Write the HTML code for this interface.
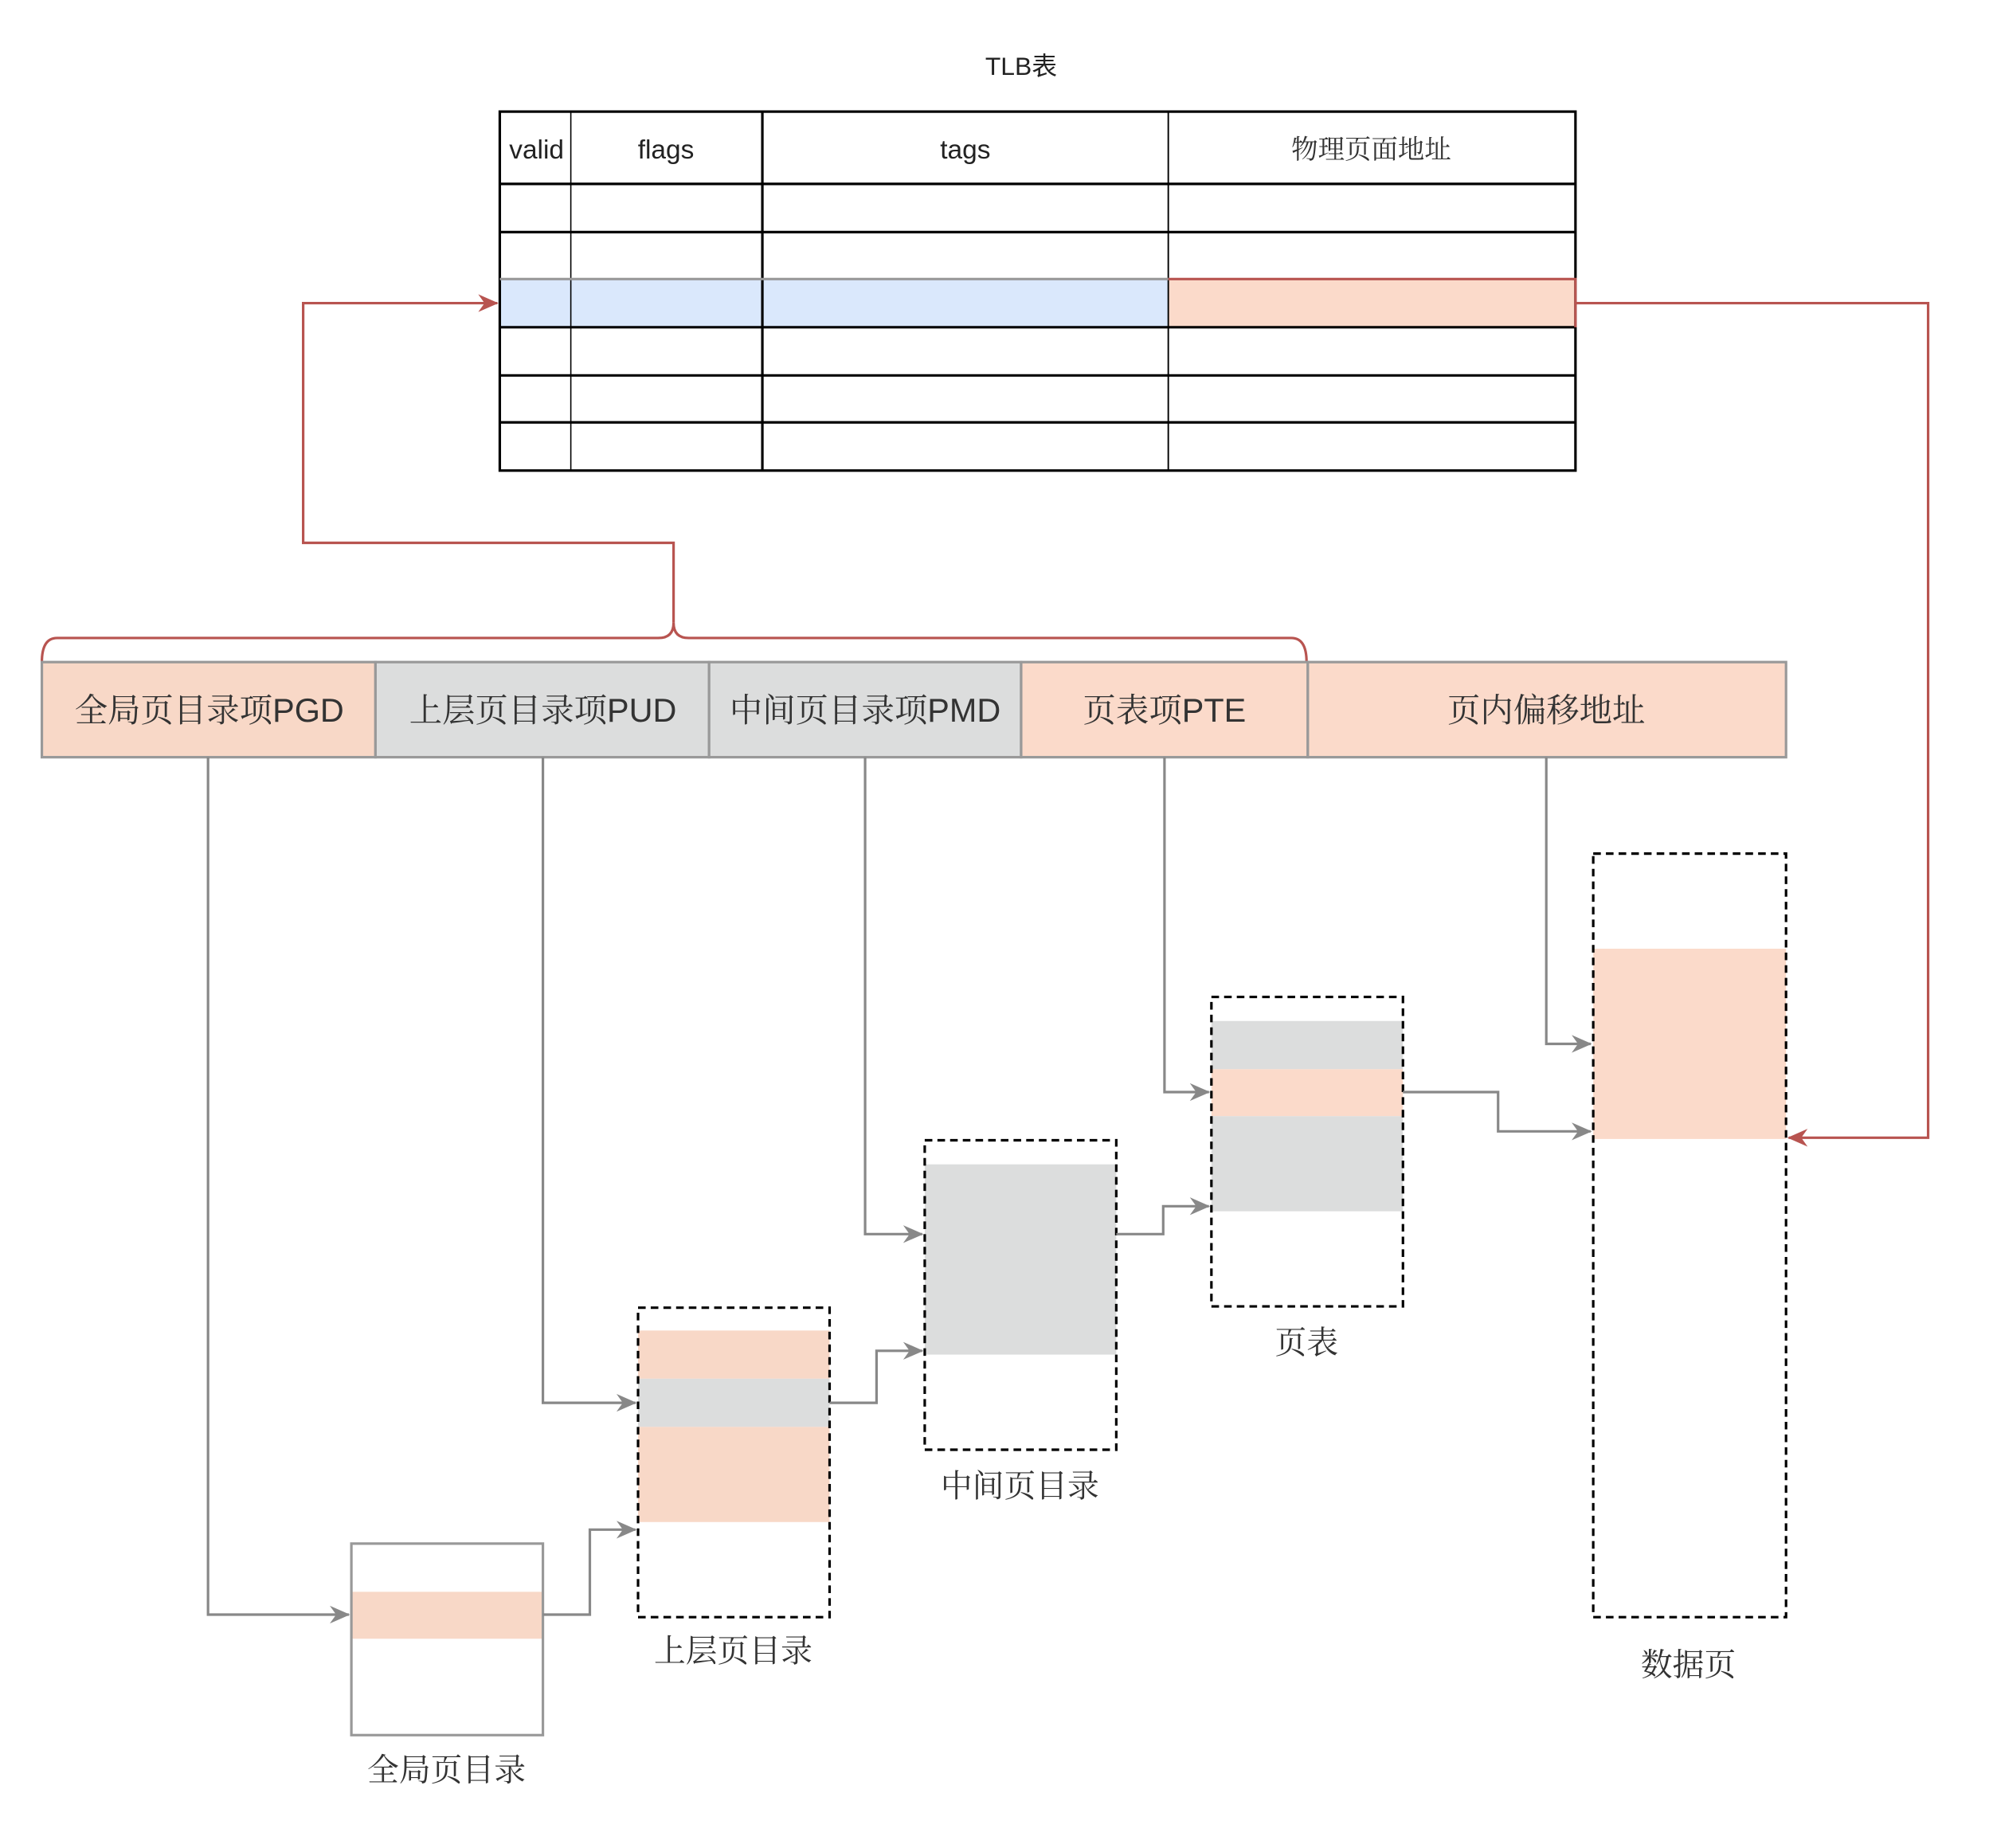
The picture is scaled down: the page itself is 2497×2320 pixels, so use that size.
<!DOCTYPE html>
<html><head><meta charset="utf-8"><style>
html,body{margin:0;padding:0;background:#fff}
svg{display:block}
.t{font-family:"Liberation Sans","Noto Sans CJK SC",sans-serif;fill:#222}
.c{font-family:"Liberation Sans","Noto Serif CJK SC",serif;fill:#333}
</style></head><body>
<svg width="2497" height="2320" viewBox="0 0 1568 1457" preserveAspectRatio="none" xmlns="http://www.w3.org/2000/svg">
<defs>
<marker id="ag" markerWidth="16" markerHeight="14" refX="15" refY="7" orient="auto" markerUnits="userSpaceOnUse"><path d="M0,0 L16,7 L0,14 L5,7 Z" fill="#888"/></marker>
<marker id="ar" markerWidth="16" markerHeight="14" refX="15" refY="7" orient="auto" markerUnits="userSpaceOnUse"><path d="M0,0 L16,7 L0,14 L5,7 Z" fill="#b85450"/></marker>
</defs>
<rect width="1568" height="1457" fill="#fff"/>
<text x="805" y="59" text-anchor="middle" class="t" font-size="20">TLB表</text>
<rect x="394" y="220" width="527" height="38" fill="#dae8fc"/>
<rect x="921" y="220" width="321" height="38" fill="#fbdaca"/>
<g stroke="#000" stroke-width="2" fill="none">
<rect x="394" y="88" width="848" height="283"/>
<line x1="394" y1="145" x2="1242" y2="145"/><line x1="394" y1="183" x2="1242" y2="183"/>
<line x1="394" y1="258" x2="1242" y2="258"/><line x1="394" y1="296" x2="1242" y2="296"/><line x1="394" y1="333" x2="1242" y2="333"/>
<line x1="450" y1="88" x2="450" y2="371" stroke-width="1"/><line x1="601" y1="88" x2="601" y2="371"/><line x1="921" y1="88" x2="921" y2="371" stroke-width="1.2"/>
</g>
<line x1="394" y1="220" x2="921" y2="220" stroke="#999" stroke-width="2"/>
<polyline points="921,220 1242,220 1242,258" stroke="#b85450" stroke-width="2" fill="none"/>
<text x="423" y="125" text-anchor="middle" class="t" font-size="21">valid</text>
<text x="525" y="125" text-anchor="middle" class="t" font-size="21">flags</text>
<text x="761" y="125" text-anchor="middle" class="t" font-size="21">tags</text>
<text x="1081" y="125" text-anchor="middle" class="c" font-size="21">物理页面地址</text>
<polyline points="1242,239 1520,239 1520,897 1410,897" stroke="#b85450" stroke-width="2" fill="none" marker-end="url(#ar)"/>
<path d="M33,522 Q33,503 45,503 L519,503 Q531,503 531,491 Q531,503 543,503 L1018,503 Q1030,503 1030,522" stroke="#b85450" stroke-width="2" fill="none"/>
<polyline points="531,491 531,428 239,428 239,239 392,239" stroke="#b85450" stroke-width="2" fill="none" marker-end="url(#ar)"/>
<g stroke="#999" stroke-width="2">
<rect x="33" y="522" width="263" height="75" fill="#f8d8c7"/>
<rect x="296" y="522" width="263" height="75" fill="#dcdddd"/>
<rect x="559" y="522" width="246" height="75" fill="#dcdddd"/>
<rect x="805" y="522" width="226" height="75" fill="#fbdaca"/>
<rect x="1031" y="522" width="377" height="75" fill="#fbdaca"/>
</g>
<g font-size="26" text-anchor="middle" class="c">
<text x="165" y="569">全局页目录项PGD</text>
<text x="428" y="569">上层页目录项PUD</text>
<text x="682" y="569">中间页目录项PMD</text>
<text x="918" y="569">页表项PTE</text>
<text x="1219" y="569">页内偏移地址</text>
</g>
<rect x="277" y="1255" width="151" height="37" fill="#f8d8c7"/>
<rect x="277" y="1217" width="151" height="151" fill="none" stroke="#999" stroke-width="2"/>
<rect x="503" y="1049" width="151" height="38" fill="#f8d8c7"/>
<rect x="503" y="1087" width="151" height="38" fill="#dcdddd"/>
<rect x="503" y="1125" width="151" height="75" fill="#f8d8c7"/>
<rect x="503" y="1031" width="151" height="244" fill="none" stroke="#000" stroke-width="2" stroke-dasharray="6,4"/>
<rect x="729" y="918" width="151" height="150" fill="#dcdddd"/>
<rect x="729" y="899" width="151" height="244" fill="none" stroke="#000" stroke-width="2" stroke-dasharray="6,4"/>
<rect x="955" y="805" width="151" height="38" fill="#dcdddd"/>
<rect x="955" y="843" width="151" height="37" fill="#fbdaca"/>
<rect x="955" y="880" width="151" height="75" fill="#dcdddd"/>
<rect x="955" y="786" width="151" height="244" fill="none" stroke="#000" stroke-width="2" stroke-dasharray="6,4"/>
<rect x="1256" y="748" width="152" height="150" fill="#fbdaca"/>
<rect x="1256" y="673" width="152" height="602" fill="none" stroke="#000" stroke-width="2" stroke-dasharray="6,4"/>
<g stroke="#888" stroke-width="2" fill="none" marker-end="url(#ag)">
<polyline points="164,597 164,1273 275,1273"/>
<polyline points="428,597 428,1106 501,1106"/>
<polyline points="682,597 682,973 727,973"/>
<polyline points="918,597 918,861 953,861"/>
<polyline points="1219,597 1219,823 1254,823"/>
<polyline points="428,1273 465,1273 465,1206 501,1206"/>
<polyline points="654,1106 691,1106 691,1065 727,1065"/>
<polyline points="880,973 917,973 917,951 953,951"/>
<polyline points="1106,861 1181,861 1181,892 1254,892"/>
</g>
<g font-size="25" text-anchor="middle" class="c">
<text x="352" y="1404">全局页目录</text>
<text x="578" y="1310">上层页目录</text>
<text x="804" y="1180">中间页目录</text>
<text x="1030" y="1067">页表</text>
<text x="1331" y="1321">数据页</text>
</g>
</svg>
</body></html>
